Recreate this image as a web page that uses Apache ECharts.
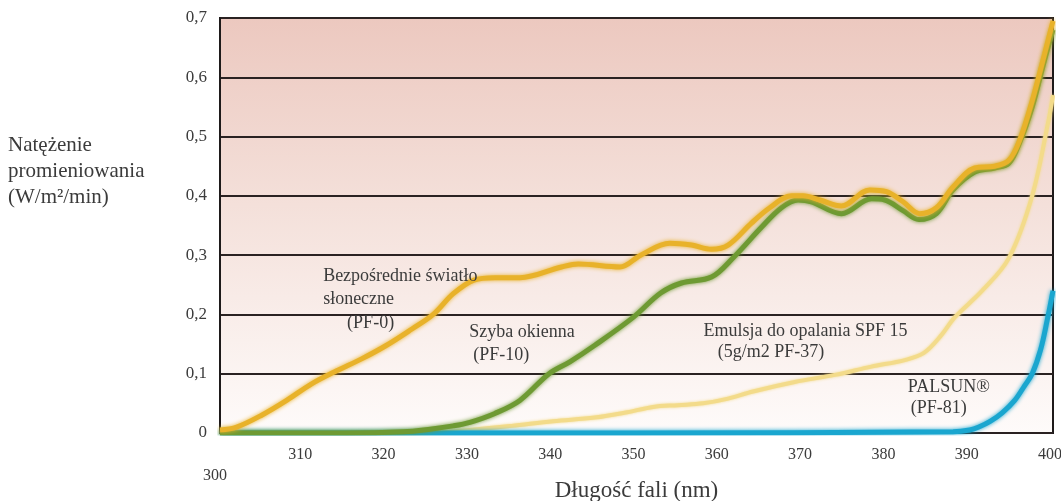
<!DOCTYPE html>
<html>
<head>
<meta charset="utf-8">
<script src="https://cdn.jsdelivr.net/npm/echarts@6/dist/echarts.min.js"></script>
<style>
  html, body { margin: 0; padding: 0; background: #ffffff; }
  #chart { width: 1061px; height: 501px; }
</style>
</head>
<body>
<div id="chart"></div>
<script>
// Wavelength (nm) and irradiance (W/m²/min) for each curve
const sunX = [300, 302, 305, 308, 311, 314, 317, 320, 323, 325.6, 328, 330.5, 333, 336, 341, 343, 348, 350.5, 354, 356.6, 359, 361, 363.8, 366, 368.6, 370, 372, 374.6, 378, 380, 382, 384, 386, 388, 390.6, 393, 394.7, 396, 397.5, 399, 400];
const sunY = [0.005, 0.01, 0.03, 0.055, 0.083, 0.105, 0.125, 0.148, 0.175, 0.2, 0.235, 0.258, 0.262, 0.262, 0.28, 0.285, 0.28, 0.3, 0.32, 0.317, 0.31, 0.317, 0.354, 0.38, 0.4, 0.4, 0.393, 0.383, 0.41, 0.407, 0.39, 0.37, 0.38, 0.415, 0.447, 0.45, 0.46, 0.494, 0.56, 0.64, 0.695];

const glassX = [300, 315, 322, 325, 328, 330, 333, 336, 339.5, 342, 345, 349.6, 352.9, 355.4, 359, 361.7, 365, 367.4, 369.4, 371, 374.6, 378.2, 379.8, 382, 383.9, 386, 388, 390.6, 393, 394.7, 396, 397.5, 399, 400];
const glassY = [0, 0, 0.002, 0.006, 0.012, 0.018, 0.033, 0.055, 0.1, 0.12, 0.148, 0.195, 0.236, 0.253, 0.263, 0.297, 0.347, 0.38, 0.393, 0.39, 0.37, 0.395, 0.393, 0.375, 0.36, 0.37, 0.41, 0.44, 0.447, 0.455, 0.49, 0.55, 0.63, 0.68];

const lotionX = [300, 325, 330, 335, 340, 345, 348.9, 352, 355, 358, 361, 364, 369, 373.8, 378.2, 382.2, 384.5, 386.6, 388.2, 391.5, 394.7, 397.5, 399.5, 400];
const lotionY = [0, 0, 0.005, 0.012, 0.02, 0.026, 0.035, 0.044, 0.047, 0.05, 0.058, 0.07, 0.086, 0.098, 0.112, 0.123, 0.135, 0.165, 0.195, 0.24, 0.295, 0.4, 0.53, 0.57];

const palsunX = [300, 350, 388, 390, 391.1, 392.5, 393.9, 395.4, 396.6, 397.5, 398.5, 399.3, 400];
const palsunY = [0, 0, 0.002, 0.005, 0.01, 0.02, 0.034, 0.055, 0.08, 0.1, 0.14, 0.19, 0.24];

// Axis ticks
const xTicks = [300, 310, 320, 330, 340, 350, 360, 370, 380, 390, 400];
const yTicks = [0, 0.1, 0.2, 0.3, 0.4, 0.5, 0.6, 0.7];

// Curve captions, one entry per text line: [wavelength, irradiance, text]
const captions = [
  [312.38, 0.265, 'Bezpośrednie światło'],
  [312.38, 0.2263, 'słoneczne'],
  [315.26, 0.185, '(PF-0)'],
  [329.93, 0.1693, 'Szyba okienna'],
  [330.41, 0.131, '(PF-10)'],
  [358.05, 0.1717, 'Emulsja do opalania SPF 15'],
  [359.74, 0.1354, '(5g/m2 PF-37)'],
  [382.57, 0.0776, 'PALSUN®'],
  [382.93, 0.0413, '(PF-81)']
];

const FONT = '"Liberation Serif", "DejaVu Serif", serif';
const TEXT = '#3b3b3b';

const pairs = (xs, ys) => xs.map((x, i) => [x, ys[i]]);

function curve(name, xs, ys, color, width, blur) {
  return {
    name: name,
    type: 'line',
    data: pairs(xs, ys),
    smooth: 0.35,
    showSymbol: false,
    symbol: 'none',
    lineStyle: { color: color, width: width, shadowColor: color, shadowBlur: blur },
    z: 3
  };
}

const chart = echarts.init(document.getElementById('chart'), null, { renderer: 'canvas' });

chart.setOption({
  animation: false,
  grid: {
    left: 220, right: 8, top: 18, bottom: 68,
    outerBoundsMode: 'none',
    containLabel: false,
    show: true,
    borderColor: '#1e1a1a',
    borderWidth: 2,
    backgroundColor: {
      type: 'linear', x: 0, y: 0, x2: 0, y2: 1,
      colorStops: [
        { offset: 0, color: '#ecc8bf' },
        { offset: 0.45, color: '#f4e0da' },
        { offset: 1, color: '#fefbfa' }
      ]
    }
  },
  xAxis: {
    type: 'value',
    min: 300, max: 400, interval: 10,
    name: 'Długość fali (nm)',
    nameLocation: 'middle',
    nameGap: 46,
    nameMoveOverlap: false,
    nameTextStyle: { fontFamily: FONT, fontSize: 23, color: TEXT },
    axisLine: { show: false },
    axisTick: { show: false },
    splitLine: { show: false },
    axisLabel: {
      margin: 14,
      fontFamily: FONT, fontSize: 16, color: TEXT,
      formatter: v => (v === xTicks[0] ? '{low|' + v + '}' : '{t|' + v + '}'),
      rich: {
        t: { fontFamily: FONT, fontSize: 16, color: TEXT, padding: [0, 6, 0, 0] },
        low: { fontFamily: FONT, fontSize: 16, color: TEXT, padding: [21, 10, 0, 0] }
      }
    }
  },
  yAxis: {
    type: 'value',
    min: yTicks[0], max: yTicks[yTicks.length - 1], interval: 0.1,
    axisLine: { show: true, lineStyle: { color: '#1e1a1a', width: 2 } },
    axisTick: { show: false },
    splitLine: { show: true, lineStyle: { color: '#2a2222', width: 2 } },
    axisLabel: {
      margin: 13,
      fontFamily: FONT, fontSize: 17, color: TEXT,
      formatter: v => (Math.round(v * 10) / 10).toString().replace('.', ',')
    }
  },
  series: [
    curve('Emulsja do opalania SPF 15', lotionX, lotionY, '#f3db8a', 4, 3),
    curve('PALSUN®', palsunX, palsunY, '#1aa6cf', 5, 4),
    curve('Szyba okienna', glassX, glassY, '#6e9a33', 5, 4),
    curve('Bezpośrednie światło słoneczne', sunX, sunY, '#e8b22a', 5, 4)
  ]
});

// Captions and the vertical-axis title, placed through the chart's own scales
const graphics = captions.map(c => {
  const p = chart.convertToPixel({ gridIndex: 0 }, [c[0], c[1]]);
  return {
    type: 'text',
    x: p[0], y: p[1],
    style: { text: c[2], fontFamily: FONT, fontSize: 18, fill: TEXT, textVerticalAlign: 'middle' },
    z: 10
  };
});
graphics.push({
  type: 'text',
  left: 8, top: 132,
  style: {
    text: 'Natężenie\npromieniowania\n(W/m²/min)',
    fontFamily: FONT, fontSize: 21, fill: TEXT, lineHeight: 26
  },
  z: 10
});
chart.setOption({ graphic: graphics });
</script>
</body>
</html>
